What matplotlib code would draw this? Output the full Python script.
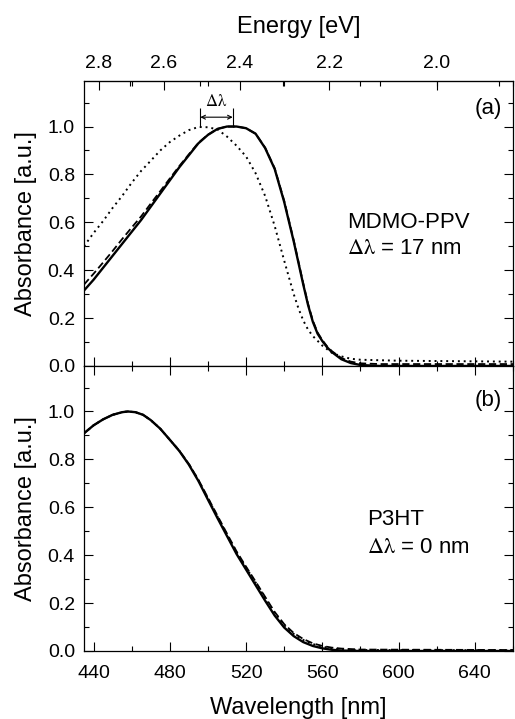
#!/usr/bin/env python3
# plot.py - absorbance spectra of MDMO-PPV (a) and P3HT (b)

import numpy as np
import matplotlib
matplotlib.use('Agg')
import matplotlib.pyplot as plt
from matplotlib.ticker import MultipleLocator, FixedLocator

# --- panel (a): MDMO-PPV ---
wl_a = [435, 440, 445, 450, 455, 460, 465, 470, 475, 480, 485, 490, 495, 500,
        505, 510, 515, 520, 525, 530, 535, 540, 545, 550, 552.5, 555, 557.5,
        560, 562.5, 565, 570, 575, 580, 590, 600, 660]
abs_a_solid = [0.315, 0.36, 0.41, 0.46, 0.51, 0.56, 0.61, 0.665, 0.72, 0.775,
               0.83, 0.88, 0.93, 0.965, 0.99, 1.0, 1.0, 0.993, 0.97, 0.91,
               0.823, 0.685, 0.52, 0.34, 0.255, 0.185, 0.135, 0.104, 0.078,
               0.058, 0.028, 0.012, 0.004, 0.0, 0.0, 0.0]
abs_a_dash = [0.34, 0.385, 0.432, 0.48, 0.53, 0.578, 0.625, 0.678, 0.73, 0.783,
              0.835, 0.884, 0.932, 0.966, 0.99, 1.0, 1.0, 0.993, 0.97, 0.912,
              0.826, 0.69, 0.525, 0.345, 0.26, 0.19, 0.14, 0.108, 0.082,
              0.062, 0.033, 0.018, 0.011, 0.008, 0.008, 0.008]

wl_a_dot = [435, 440, 445, 450, 455, 460, 465, 470, 475, 480, 485, 490, 495,
            500, 505, 510, 515, 520, 525, 530, 535, 540, 545, 547.5, 550,
            552.5, 555, 560, 565, 570, 575, 580, 600, 630, 660]
abs_a_dot = [0.50, 0.555, 0.605, 0.66, 0.71, 0.765, 0.815, 0.857, 0.90, 0.935,
             0.962, 0.985, 0.998, 0.997, 0.988, 0.958, 0.92, 0.875, 0.805,
             0.71, 0.585, 0.44, 0.30, 0.24, 0.19, 0.152, 0.125, 0.085, 0.055,
             0.04, 0.03, 0.026, 0.022, 0.02, 0.018]

# peak positions marked by the delta-lambda bracket
peaks_a = [496, 513]

# --- panel (b): P3HT ---
wl_b = [435, 440, 445, 450, 455, 458, 462, 466, 470, 475, 480, 485, 490, 495,
        500, 505, 510, 515, 520, 525, 530, 535, 540, 545, 550, 555, 560, 565,
        570, 580, 660]
abs_b_solid = [0.909, 0.942, 0.967, 0.986, 0.997, 1.0, 0.997, 0.986, 0.964,
               0.928, 0.882, 0.835, 0.778, 0.71, 0.632, 0.555, 0.48, 0.405,
               0.34, 0.275, 0.21, 0.148, 0.098, 0.062, 0.037, 0.021, 0.011,
               0.005, 0.002, 0.0, 0.0]
abs_b_dash = [0.909, 0.942, 0.967, 0.986, 0.997, 1.0, 0.997, 0.986, 0.964,
              0.928, 0.882, 0.836, 0.781, 0.715, 0.64, 0.565, 0.49, 0.416,
              0.352, 0.29, 0.226, 0.163, 0.112, 0.075, 0.05, 0.032, 0.021,
              0.014, 0.01, 0.006, 0.004]
abs_b_dot = [0.909, 0.942, 0.967, 0.986, 0.997, 1.0, 0.997, 0.986, 0.964,
             0.928, 0.882, 0.836, 0.780, 0.713, 0.637, 0.561, 0.486, 0.412,
             0.348, 0.286, 0.222, 0.159, 0.108, 0.071, 0.046, 0.029, 0.018,
             0.011, 0.007, 0.004, 0.003]

energy_major = [2.8, 2.6, 2.4, 2.2, 2.0]
energy_minor = [2.7, 2.5, 2.3, 2.1, 1.9]

HC = 1240.0  # eV nm
TICK_FS = 14
LABEL_FS = 17
NOTE_FS = 16


def nm_to_ev(x):
    x = np.array(x, dtype=float)
    x[np.isclose(x, 0)] = np.inf
    return HC / x


def style_axis(ax):
    """Inward ticks on all four sides"""
    ax.set_xlim(435, 660)
    ax.set_ylim(0, 1.19)
    ax.xaxis.set_major_locator(MultipleLocator(40))
    ax.xaxis.set_minor_locator(MultipleLocator(20))
    ax.yaxis.set_major_locator(MultipleLocator(0.2))
    ax.yaxis.set_minor_locator(MultipleLocator(0.1))
    ax.yaxis.set_major_formatter(plt.FormatStrFormatter('%.1f'))
    ax.tick_params(which='both', direction='in', top=True, right=True,
                   width=0.8, labelsize=TICK_FS, pad=6.5)
    ax.tick_params(axis='x', pad=10)
    ax.tick_params(which='major', length=6.5)
    ax.tick_params(which='minor', length=3.5)
    for sp in ax.spines.values():
        sp.set_linewidth(0.9)
    ax.set_ylabel('Absorbance [a.u.]', fontsize=LABEL_FS, labelpad=8)


def plot_curves(ax, wl, solid, dash, wl_dot, dot):
    ax.plot(wl, solid, color='black', lw=1.7, ls='-')
    ax.plot(wl, dash, color='black', lw=1.3, ls=(0, (4, 2)))
    ax.plot(wl_dot, dot, color='black', lw=1.4, ls=(0, (1, 2)))


def main():
    plt.rcParams['font.family'] = ['Liberation Sans', 'DejaVu Sans']
    plt.rcParams['mathtext.fontset'] = 'stix'

    fig = plt.figure(figsize=(5.15, 7.19), dpi=100)
    ax_a = fig.add_axes([0.1631, 0.4910, 0.8330, 0.3963])
    ax_b = fig.add_axes([0.1631, 0.0946, 0.8330, 0.3964])

    # (a) MDMO-PPV
    plot_curves(ax_a, wl_a, abs_a_solid, abs_a_dash, wl_a_dot, abs_a_dot)
    style_axis(ax_a)
    ax_a.tick_params(labelbottom=False)

    sec = ax_a.secondary_xaxis('top', functions=(nm_to_ev, nm_to_ev))
    sec.xaxis.set_major_locator(FixedLocator(energy_major))
    sec.xaxis.set_minor_locator(FixedLocator(energy_minor))
    sec.xaxis.set_major_formatter(plt.FormatStrFormatter('%.1f'))
    sec.tick_params(which='both', direction='in', width=0.8,
                    labelsize=TICK_FS, pad=6.5)
    sec.tick_params(which='major', length=6.5)
    sec.tick_params(which='minor', length=3.5)
    sec.set_xlabel('Energy [eV]', fontsize=LABEL_FS, labelpad=16)
    ax_a.tick_params(top=False)

    # delta-lambda bracket between the two peaks
    ax_a.vlines(peaks_a, 1.0, 1.078, color='black', lw=0.8)
    ax_a.annotate('', xy=(peaks_a[0], 1.039), xytext=(peaks_a[1], 1.039),
                  arrowprops=dict(arrowstyle='<->', lw=0.8, color='black',
                                  shrinkA=0, shrinkB=0, mutation_scale=7))
    ax_a.text(np.mean(peaks_a), 1.105, r'$\mathrm{\Delta\lambda}$',
              ha='center', va='center', fontsize=12)

    ax_a.text(0.974, 0.905, '(a)', transform=ax_a.transAxes,
              ha='right', va='center', fontsize=NOTE_FS)
    ax_a.text(573, 0.60, 'MDMO-PPV', ha='left', va='center', fontsize=NOTE_FS)
    ax_a.text(573, 0.492, r'$\mathrm{\Delta\lambda}$ = 17 nm',
              ha='left', va='center', fontsize=NOTE_FS)

    # (b) P3HT
    plot_curves(ax_b, wl_b, abs_b_solid, abs_b_dash, wl_b, abs_b_dot)
    style_axis(ax_b)
    ax_b.set_xlabel('Wavelength [nm]', fontsize=LABEL_FS, labelpad=11)
    ax_b.text(0.974, 0.88, '(b)', transform=ax_b.transAxes,
              ha='right', va='center', fontsize=NOTE_FS)
    ax_b.text(583.5, 0.548, 'P3HT', ha='left', va='center', fontsize=NOTE_FS)
    ax_b.text(583.5, 0.43, r'$\mathrm{\Delta\lambda}$ = 0 nm',
              ha='left', va='center', fontsize=NOTE_FS)

    fig.savefig('out.png', dpi=100)
    plt.close(fig)


if __name__ == "__main__":
    main()
